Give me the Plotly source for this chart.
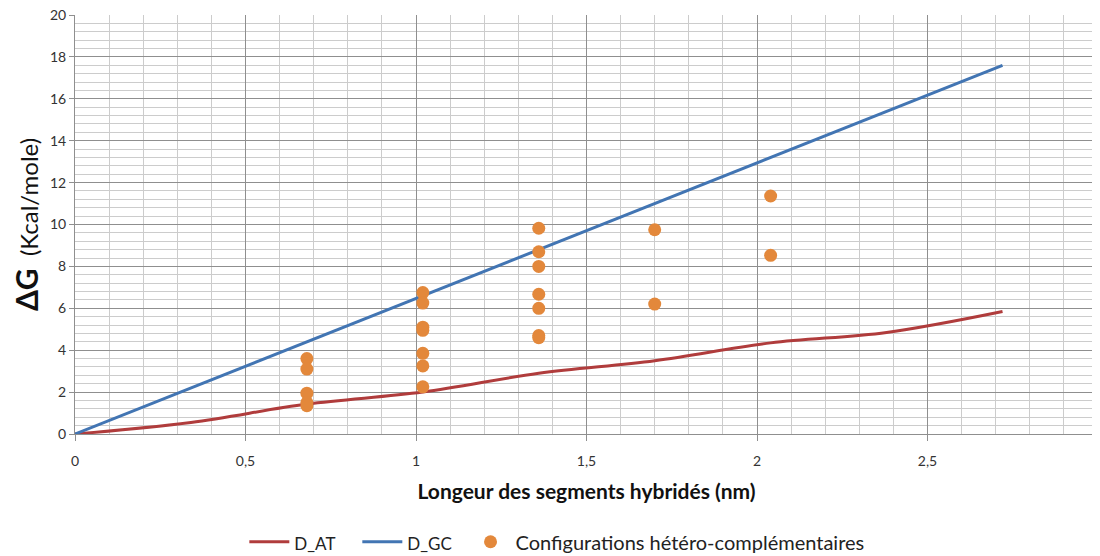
import plotly.graph_objects as go

# longueur des segments (nm), pas de 0.34 nm par paire de bases
longueur = [0, 0.34, 0.68, 1.02, 1.36, 1.70, 2.04, 2.38, 2.72]
d_at = [0, 0.55, 1.43, 2.0, 2.9, 3.5, 4.35, 4.85, 5.85]
d_gc = [0, 2.2, 4.4, 6.6, 8.8, 11.0, 13.2, 15.4, 17.6]

# configurations hetero-complementaires
config_x = [0.68, 0.68, 0.68, 0.68, 0.68,
            1.02, 1.02, 1.02, 1.02, 1.02, 1.02, 1.02,
            1.36, 1.36, 1.36, 1.36, 1.36, 1.36, 1.36,
            1.70, 1.70,
            2.04, 2.04]
config_y = [3.6, 3.1, 1.95, 1.5, 1.35,
            6.75, 6.25, 5.1, 4.95, 3.85, 3.25, 2.25,
            9.82, 8.7, 8.0, 6.67, 6.0, 4.7, 4.6,
            9.75, 6.2,
            11.36, 8.53]

rouge = '#B03C3C'
bleu = '#4275B3'
orange = '#E3883B'

def petit(txt, n):
    return "<span style='font-size:17px'>" + txt + '\u00a0' * n + "</span>"

fig = go.Figure()
fig.add_trace(go.Scatter(x=longueur, y=d_at, mode='lines', name=petit('D_AT', 4),
                         line=dict(color=rouge, width=3, shape='spline')))
fig.add_trace(go.Scatter(x=longueur, y=d_gc, mode='lines', name=petit('D_GC', 2),
                         line=dict(color=bleu, width=3)))
fig.add_trace(go.Scatter(x=config_x, y=config_y, mode='markers',
                         name='Configurations hétéro-complémentaires',
                         marker=dict(color=orange, size=13)))

# la page decale la figure de 8 px, d'ou ces marges
fig.update_layout(
    width=1100, height=556,
    margin=dict(l=67, r=10, t=7, b=130),
    plot_bgcolor='white', paper_bgcolor='white',
    font=dict(family='Lato, Noto Sans, sans-serif', size=14, color='#333333'),
    separators=', ',
    showlegend=True,
    legend=dict(orientation='h', x=0.471, xanchor='center',
                yref='container', y=0.04, yanchor='middle',
                font=dict(size=20, color='#222222'), itemwidth=40, tracegroupgap=0),
)

fig.update_xaxes(
    range=[0, 3], dtick=0.5, tick0=0, automargin=False, ticklabeloverflow='allow',
    showgrid=True, gridcolor='#8f8f8f', gridwidth=1,
    minor=dict(dtick=0.1, showgrid=True, gridcolor='#cccccc', gridwidth=1),
    showline=True, linecolor='#8f8f8f', linewidth=1,
    ticks='outside', ticklen=6, tickcolor='#8f8f8f', ticklabelstandoff=8,
    zeroline=False, tickfont=dict(size=14, color='#333333'),
    title=dict(text='<b>Longeur des segments hybridés (nm)</b>',
               font=dict(size=21, color='#111111'), standoff=16),
)
fig.update_yaxes(
    range=[0, 20], dtick=2, tick0=0, automargin=False, ticklabeloverflow='allow',
    showgrid=True, gridcolor='#8f8f8f', gridwidth=1,
    minor=dict(dtick=0.4, showgrid=True, gridcolor='#cccccc', gridwidth=1),
    showline=True, linecolor='#8f8f8f', linewidth=1,
    ticks='outside', ticklen=5, tickcolor='#8f8f8f',
    zeroline=False, tickfont=dict(size=14, color='#333333'),
    title=dict(text="<b><span style='font-size:30px'>ΔG</span></b>  (Kcal/mole)",
               font=dict(size=24, color='#111111'), standoff=22),
)

fig.write_html("out.html")
